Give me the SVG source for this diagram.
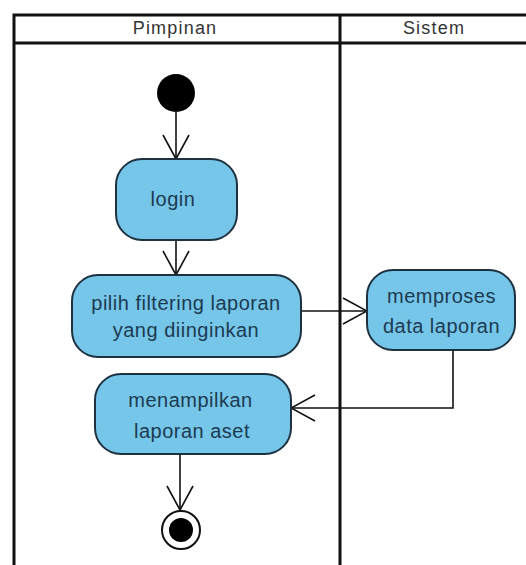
<svg xmlns="http://www.w3.org/2000/svg" width="526" height="565" viewBox="0 0 526 565">
  <defs>
    <style>
      .lane { fill: none; stroke: #111; stroke-width: 3; }
      .head { font-family: "Liberation Sans", Arial, sans-serif; font-size: 18px; fill: #333; text-anchor: middle; letter-spacing: 1.2px; }
      .act { fill: #76c6ea; stroke: #1e3140; stroke-width: 2; }
      .lbl { font-family: "Liberation Sans", Arial, sans-serif; font-size: 20px; fill: #1c3a50; text-anchor: middle; letter-spacing: 0.5px; }
      .flow { fill: none; stroke: #111; stroke-width: 1.6; }
    </style>
    <marker id="open" viewBox="0 0 26 28" refX="25" refY="14" markerWidth="26" markerHeight="28" markerUnits="userSpaceOnUse" orient="auto">
      <path d="M1,1 L25,14 L1,27" fill="none" stroke="#111" stroke-width="1.6"/>
    </marker>
  </defs>

  <rect width="526" height="565" fill="#ffffff"/>

  <!-- swimlane frame -->
  <g id="lanes">
    <path class="lane" d="M14,565 V15 H526 M14,43 H526 M340,15 V565"/>
    <text class="head" x="175" y="34">Pimpinan</text>
    <text class="head" x="434" y="34">Sistem</text>
  </g>

  <!-- connectors -->
  <g id="connectors">
    <path class="flow" d="M176,112 V159" marker-end="url(#open)"/>
    <path class="flow" d="M176,240 V275" marker-end="url(#open)"/>
    <path class="flow" d="M301,311 H367" marker-end="url(#open)"/>
    <path class="flow" d="M453,350 V408 H291" marker-end="url(#open)"/>
    <path class="flow" d="M180,454 V510" marker-end="url(#open)"/>
  </g>

  <g id="start">
    <circle cx="176" cy="93" r="19" fill="#000"/>
  </g>

  <g id="login">
    <rect class="act" x="116" y="159" width="121" height="81" rx="26"/>
    <text class="lbl" x="173" y="206">login</text>
  </g>

  <g id="pilih">
    <rect class="act" x="72" y="275" width="229" height="82" rx="26"/>
    <text class="lbl" x="186" y="310">pilih filtering laporan</text>
    <text class="lbl" x="186" y="337">yang diinginkan</text>
  </g>

  <g id="memproses">
    <rect class="act" x="367" y="270" width="148" height="80" rx="26"/>
    <text class="lbl" x="441.5" y="303">memproses</text>
    <text class="lbl" x="441.5" y="333">data laporan</text>
  </g>

  <g id="menampilkan">
    <rect class="act" x="95" y="374" width="196" height="80" rx="26"/>
    <text class="lbl" x="190.5" y="407">menampilkan</text>
    <text class="lbl" x="192" y="438">laporan aset</text>
  </g>

  <g id="end">
    <circle cx="181" cy="530" r="19" fill="#fff" stroke="#111" stroke-width="2"/>
    <circle cx="181" cy="530" r="12" fill="#000"/>
  </g>
</svg>
